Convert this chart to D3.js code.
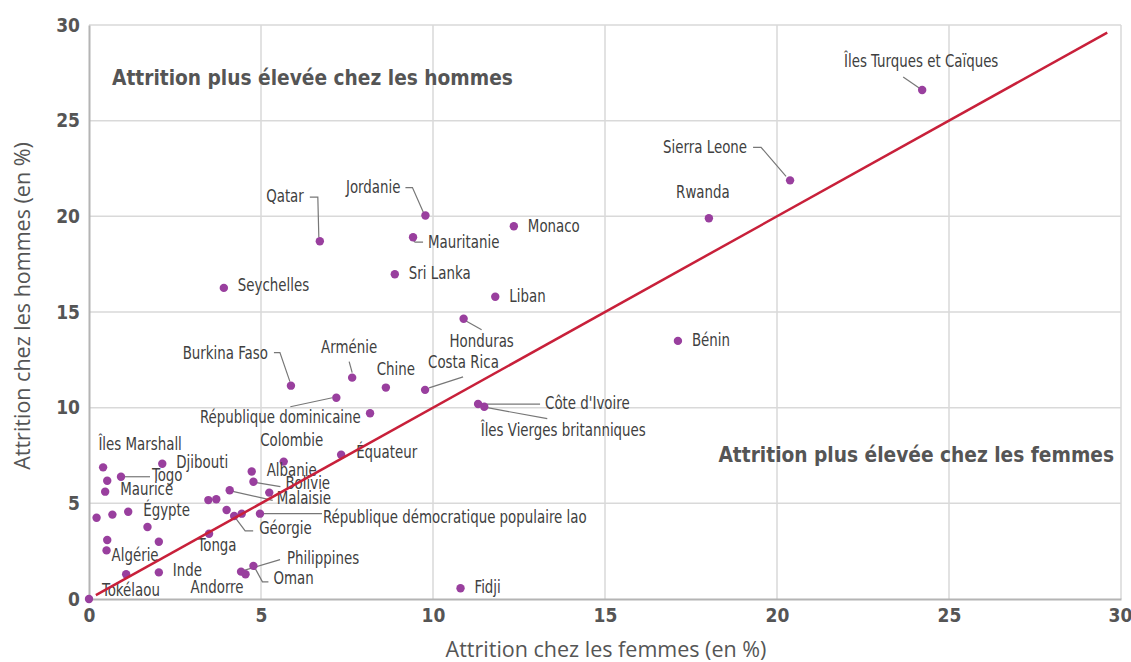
<!DOCTYPE html>
<html><head><meta charset="utf-8">
<script src="https://cdn.jsdelivr.net/npm/d3@7"></script>
<style>body{margin:0;background:#fff}</style></head>
<body><svg id="c" width="1131" height="662"></svg>
<script>
// ---- data ----
const countries = ["Îles Turques et Caïques","Sierra Leone","Rwanda","Bénin","Jordanie","Qatar","Mauritanie","Monaco","Sri Lanka","Liban","Honduras","Seychelles","Burkina Faso","Arménie","Chine","Costa Rica","République dominicaine","","Colombie","Équateur","Côte d'Ivoire","Îles Vierges britanniques","Fidji","Îles Marshall","Djibouti","Togo","","Maurice","Égypte","","","","","Algérie","","","Inde","Tokélaou","Tonga","Philippines","Andorre","Oman","Géorgie","République démocratique populaire lao","Malaisie","Bolivie","Albanie","","","","",""];
const femmes = [24.22,20.38,18.02,17.12,9.78,6.71,9.42,12.35,8.89,11.81,10.89,3.92,5.87,7.65,8.63,9.77,7.19,8.17,5.66,7.33,11.31,11.49,10.8,0.41,2.13,0.93,0.53,0.47,1.14,0.22,0.68,1.70,0.53,0.51,2.03,1.08,2.03,0,3.49,4.42,4.55,4.78,4.22,4.97,4.09,4.78,4.73,5.24,3.47,3.70,4.00,4.44];
const hommes = [26.6,21.88,19.9,13.49,20.04,18.7,18.91,19.48,16.97,15.8,14.65,16.26,11.15,11.57,11.05,10.93,10.52,9.71,7.18,7.54,10.19,10.05,0.56,6.88,7.07,6.39,6.18,5.61,4.56,4.25,4.41,3.76,3.08,2.54,2.99,1.29,1.39,0,3.41,1.43,1.29,1.73,4.34,4.46,5.68,6.13,6.66,5.56,5.17,5.21,4.65,4.46];
const xTicks = [0,5,10,15,20,25,30];
const yTicks = [0,5,10,15,20,25,30];
const parityLine = [0.2, 29.6];
const xTitle = "Attrition chez les femmes (en %)";
const yTitle = "Attrition chez les hommes (en %)";
const noteMen = "Attrition plus élevée chez les hommes";
const noteWomen = "Attrition plus élevée chez les femmes";

// ---- label layout (pixel offsets from the point) ----
const layout = {
 "Îles Turques et Caïques":{dx:-1,dy:-29,a:"middle",l:[[-19,-13],[-3,-2]]},
 "Sierra Leone":{dx:-43,dy:-33,a:"end",l:[[-37,-33],[-29,-33],[-4,-4]]},
 "Rwanda":{dx:-6,dy:-26,a:"middle"},
 "Bénin":{dx:14,dy:-1},
 "Jordanie":{dx:-25,dy:-29,a:"end",l:[[-20,-28],[-13,-28],[-2,-3]]},
 "Qatar":{dx:-16,dy:-45,a:"end",l:[[-10,-44],[-2,-44],[-1,-4]]},
 "Mauritanie":{dx:15,dy:5,l:[[0,3],[2,5],[10,5]]},
 "Monaco":{dx:14,dy:0},
 "Sri Lanka":{dx:14,dy:-1},
 "Liban":{dx:14,dy:-1},
 "Honduras":{dx:18,dy:22,a:"middle",l:[[2,2],[18,11]]},
 "Seychelles":{dx:14,dy:-3},
 "Burkina Faso":{dx:-23,dy:-33,a:"end",l:[[-17,-33],[-11,-33],[-1,-4]]},
 "Arménie":{dx:-3,dy:-31,a:"middle",l:[[-3,-16],[0,-5]]},
 "Chine":{dx:10,dy:-19,a:"middle"},
 "Costa Rica":{dx:3,dy:-28,l:[[4,-2],[38,-13]]},
 "République dominicaine":{dx:-56,dy:19,a:"middle",l:[[-46,9],[-4,0]]},
 "Colombie":{dx:8,dy:-22,a:"middle"},
 "Équateur":{dx:15,dy:-3},
 "Côte d'Ivoire":{dx:67,dy:-1,l:[[3,0],[62,0]]},
 "Îles Vierges britanniques":{dx:79,dy:23,a:"middle",l:[[3,1],[63,12]]},
 "Fidji":{dx:14,dy:-1},
 "Îles Marshall":{dx:37,dy:-23,a:"middle"},
 "Djibouti":{dx:14,dy:-2},
 "Togo":{dx:31,dy:-2,l:[[3,0],[29,0]]},
 "Maurice":{dx:15,dy:-3},
 "Égypte":{dx:15,dy:-2},
 "Algérie":{dx:5,dy:5},
 "Inde":{dx:14,dy:-2},
 "Tokélaou":{dx:13,dy:-9},
 "Tonga":{dx:8,dy:11,a:"middle"},
 "Philippines":{dx:46,dy:-14,l:[[2,-1],[39,-12]]},
 "Andorre":{dx:-2,dy:13,a:"end"},
 "Oman":{dx:20,dy:12,l:[[2,3],[9,16],[15,16]]},
 "Géorgie":{dx:25,dy:12,l:[[2,3],[11,15],[19,15]]},
 "République démocratique populaire lao":{dx:63,dy:3,l:[[3,0],[62,0]]},
 "Malaisie":{dx:47,dy:8,l:[[3,1],[43,10]]},
 "Bolivie":{dx:32,dy:1,l:[[3,1],[27,5]]},
 "Albanie":{dx:15,dy:-2}
};

const FONT = "'DejaVu Sans Condensed','Liberation Sans Narrow',sans-serif";
const TFONT = "'Open Sans','Noto Sans',sans-serif";
const SQ = 0.875; // horizontal compression of condensed labels
const svg = d3.select("#c");
const x = d3.scaleLinear().domain([0,30]).range([89,1121]);
const y = d3.scaleLinear().domain([0,30]).range([599,25]);

// grid
const g = svg.append("g");
g.selectAll("line.gx").data(xTicks.filter(d=>d>0)).join("line")
 .attr("x1",d=>x(d)).attr("x2",d=>x(d)).attr("y1",y(0)).attr("y2",y(30))
 .attr("stroke","#d9d9d9").attr("stroke-width",1.5);
g.selectAll("line.gy").data(yTicks.filter(d=>d>0)).join("line")
 .attr("y1",d=>y(d)).attr("y2",d=>y(d)).attr("x1",x(0)).attr("x2",x(30))
 .attr("stroke","#d9d9d9").attr("stroke-width",1.5);

// axes
const xAxis = d3.axisBottom(x).tickValues(xTicks).tickSize(0).tickPadding(10);
const yAxis = d3.axisLeft(y).tickValues(yTicks).tickSize(0).tickPadding(9);
const gx = svg.append("g").attr("transform",`translate(0,${y(0)})`).call(xAxis);
const gy = svg.append("g").attr("transform",`translate(${x(0)},0)`).call(yAxis);
[gx,gy].forEach(a=>{
  a.select(".domain").attr("stroke","#b4b4b4").attr("stroke-width",2);
  a.selectAll("text").attr("font-family",FONT).attr("font-weight","bold")
   .attr("font-size",19).attr("fill","#555");
});
gx.selectAll(".tick").filter(d=>d===30).select("text").attr("dx",-1);

// titles
svg.append("text").attr("x",606).attr("y",657).attr("text-anchor","middle")
 .attr("font-family",TFONT).attr("font-size",21.5).attr("fill","#555").text(xTitle);
svg.append("text").attr("transform","translate(30,306) rotate(-90)").attr("text-anchor","middle")
 .attr("font-family",TFONT).attr("font-size",21.5).attr("fill","#555").text(yTitle);

// notes
svg.append("text").attr("x",112).attr("y",85).attr("font-family",FONT).attr("font-weight","bold")
 .attr("font-size",20.7).attr("fill","#555").text(noteMen);
svg.append("text").attr("x",1114).attr("y",462).attr("text-anchor","end").attr("font-family",FONT).attr("font-weight","bold")
 .attr("font-size",20.7).attr("fill","#555").text(noteWomen);

const pts = countries.map((c,i)=>({c, fx:femmes[i], hy:hommes[i]}));

// leader lines
const lg = svg.append("g");
pts.forEach(p=>{
  const L = layout[p.c];
  if(!L || !L.l) return;
  const px=x(p.fx), py=y(p.hy);
  lg.append("polyline").attr("points",L.l.map(o=>[px+o[0],py+o[1]].join(",")).join(" "))
   .attr("fill","none").attr("stroke","#777").attr("stroke-width",1.2);
});

// points
svg.append("g").selectAll("circle").data(pts).join("circle")
 .attr("cx",d=>x(d.fx)).attr("cy",d=>y(d.hy)).attr("r",4.2).attr("fill","#993f9e");

// labels
svg.append("g").selectAll("text").data(pts.filter(d=>d.c)).join("text")
 .attr("transform",d=>`translate(${x(d.fx)+layout[d.c].dx},${y(d.hy)+layout[d.c].dy}) scale(${SQ},1)`)
 .attr("dy","0.35em").attr("text-anchor",d=>layout[d.c].a||"start")
 .attr("font-family",FONT).attr("font-size",17).attr("fill","#404040").text(d=>d.c);

// parity line
svg.append("line").attr("x1",x(parityLine[0])).attr("y1",y(parityLine[0]))
 .attr("x2",x(parityLine[1])).attr("y2",y(parityLine[1]))
 .attr("stroke","#c8203a").attr("stroke-width",2.5);
</script></body></html>
